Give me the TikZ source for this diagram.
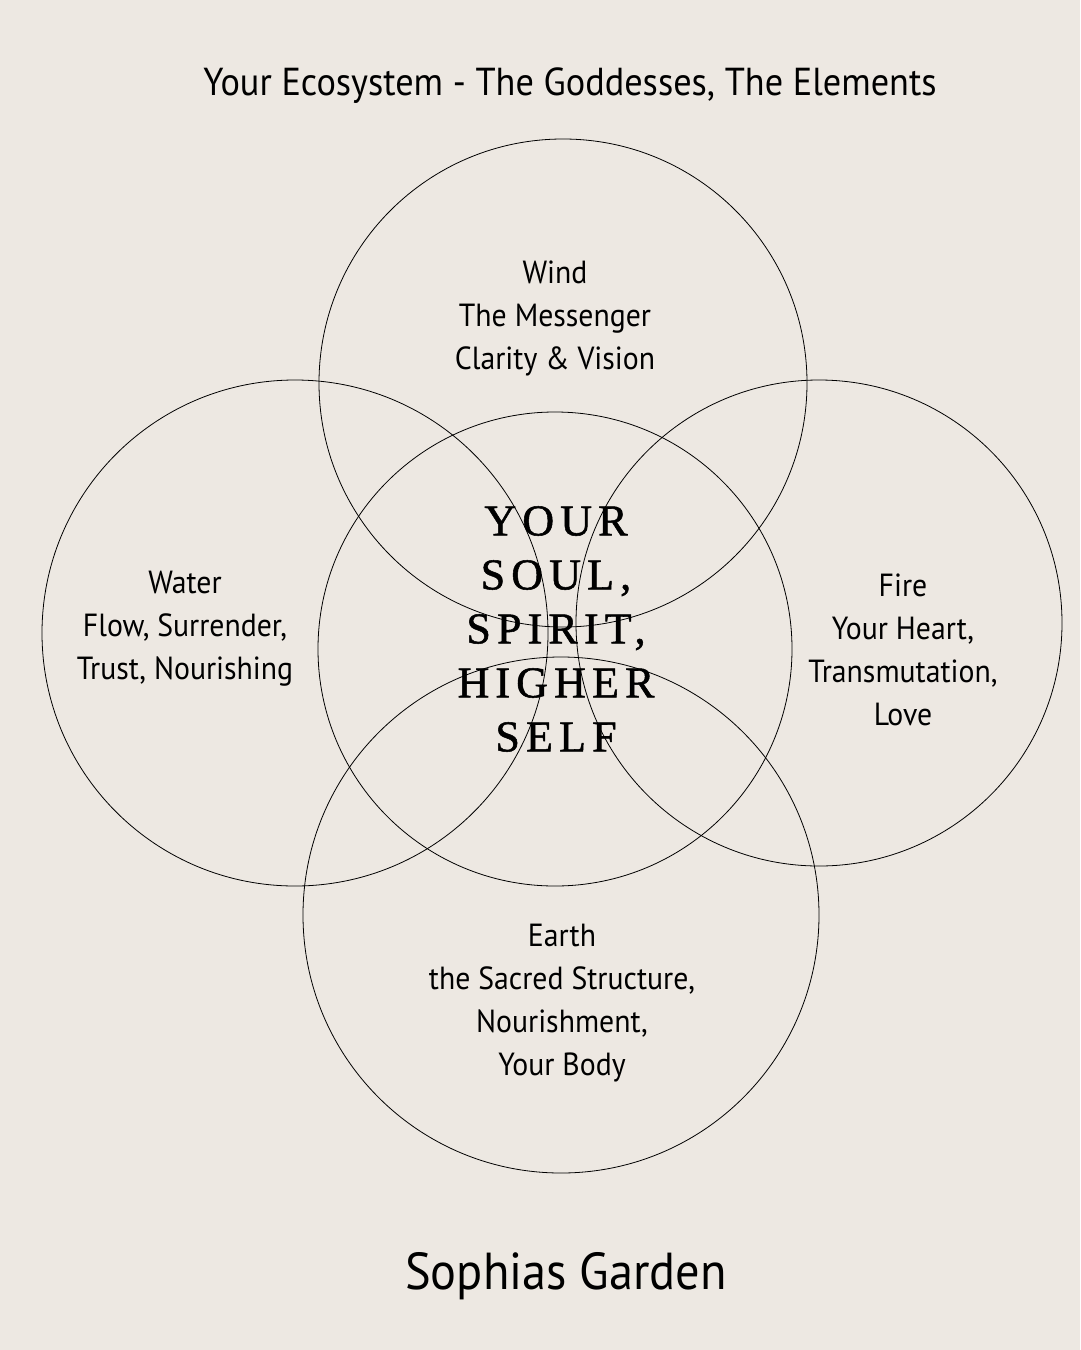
\documentclass[tikz,border=0pt]{standalone}
\usepackage{fontspec}
\setmainfont{PT Sans}[FakeStretch=0.93]
\newfontfamily\soulfont{Liberation Serif}[LetterSpace=14,FakeBold=1.2]
\definecolor{bg}{HTML}{EDE8E2}
\begin{document}
\begin{tikzpicture}[x=1pt,y=-1pt,
  ring/.style={draw=black,line width=0.8pt},
  lbl/.style={align=center,font=\fontsize{32}{43}\selectfont,text=black,inner sep=0pt},
  soul/.style={align=center,font=\soulfont\fontsize{44}{54}\selectfont,inner sep=0pt}]
\fill[bg] (0,0) rectangle (1080,1350);
\useasboundingbox (0,0) rectangle (1080,1350);
\draw[ring] (563,383) circle[radius=244];
\draw[ring] (295,633) circle[radius=253];
\draw[ring] (555,649) circle[radius=237];
\draw[ring] (819,623) circle[radius=243];
\draw[ring] (561,915) circle[radius=258];
\node[lbl,font=\fontsize{39}{44}\selectfont] (title) at (570,86) {Your Ecosystem - The Goddesses, The Elements};
\node[lbl] (wind) at (555,318) {Wind\\The Messenger\\Clarity \& Vision};
\node[lbl] (water) at (185,629) {Water\\Flow, Surrender,\\Trust, Nourishing};
\node[lbl] (fire) at (903,650) {Fire\\Your Heart,\\Transmutation,\\Love};
\node[lbl] (earth) at (562,1003) {Earth\\the Sacred Structure,\\Nourishment,\\Your Body};
\node[soul] (soul) at (556,629) {YOUR\\SOUL,\\SPIRIT,\\HIGHER\\SELF};
\node[lbl,font=\fontsize{52}{58}\selectfont] (brand) at (566,1276) {Sophias Garden};
\end{tikzpicture}
\end{document}
